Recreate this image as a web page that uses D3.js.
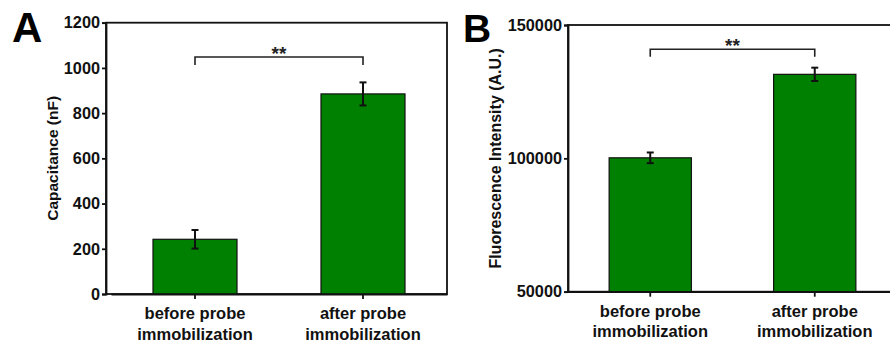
<!DOCTYPE html>
<html>
<head>
<meta charset="utf-8">
<script src="https://cdn.jsdelivr.net/npm/d3@7"></script>
<style>
  body { margin: 0; background: #fff; }
  svg { display: block; font-family: "Liberation Sans", Arial, sans-serif; }
</style>
</head>
<body>
<div id="canvas"></div>
<script>
// data
const categories = ["before", "after"];
const categoryLines = [["before probe", "immobilization"], ["after probe", "immobilization"]];

const capacitance = [242, 885];
const capacitanceErr = [41, 51];
const capTicks = [0, 200, 400, 600, 800, 1000, 1200];

const fluorescence = [100200, 131500];
const fluorescenceErr = [2000, 2500];
const fluoTicks = [50000, 100000, 150000];

const sigLabel = "**";
const capBracket = [1048, 1013];     // bracket line, leg end
const fluoBracket = [140900, 138100];

const width = 890;
const height = 348;

const svg = d3.select("#canvas").append("svg")
  .attr("width", width)
  .attr("height", height);

function drawPanel(cfg) {
  const g = svg.append("g").attr("transform", `translate(${cfg.left},${cfg.top})`);
  const iwidth = cfg.w, iheight = cfg.h;

  const y = d3.scaleLinear().domain(cfg.domain).range([iheight, 0]);
  const x = d3.scaleBand()
    .domain(categories)
    .range(cfg.xRange)
    .paddingInner(0.5)
    .paddingOuter(0.25);

  // frame
  g.append("rect")
    .attr("x", 0).attr("y", 0)
    .attr("width", iwidth).attr("height", iheight)
    .attr("fill", "none")
    .attr("stroke", "#111")
    .attr("stroke-width", 1.8);

  // bars
  g.selectAll("rect.bar")
    .data(cfg.values)
    .enter().append("rect")
    .attr("class", "bar")
    .attr("x", (d, i) => x(categories[i]))
    .attr("y", d => y(d))
    .attr("width", x.bandwidth())
    .attr("height", d => iheight - y(d))
    .attr("fill", "#008000")
    .attr("stroke", "#111")
    .attr("stroke-width", 1.2);

  // error bars
  const cx = i => x(categories[i]) + x.bandwidth() / 2;
  const eb = g.selectAll("g.err")
    .data(cfg.values)
    .enter().append("g")
    .attr("class", "err")
    .attr("stroke", "#111")
    .attr("stroke-width", 2);
  eb.append("line")
    .attr("x1", (d, i) => cx(i)).attr("x2", (d, i) => cx(i))
    .attr("y1", (d, i) => y(d + cfg.errs[i])).attr("y2", (d, i) => y(d - cfg.errs[i]));
  eb.append("line")
    .attr("x1", (d, i) => cx(i) - 3.5).attr("x2", (d, i) => cx(i) + 3.5)
    .attr("y1", (d, i) => y(d + cfg.errs[i])).attr("y2", (d, i) => y(d + cfg.errs[i]));
  eb.append("line")
    .attr("x1", (d, i) => cx(i) - 3.5).attr("x2", (d, i) => cx(i) + 3.5)
    .attr("y1", (d, i) => y(d - cfg.errs[i])).attr("y2", (d, i) => y(d - cfg.errs[i]));

  // significance bracket
  const by = y(cfg.bracket[0]), bl = y(cfg.bracket[1]);
  g.append("path")
    .attr("d", `M${cx(0)},${bl}V${by}H${cx(1)}V${bl}`)
    .attr("fill", "none")
    .attr("stroke", "#222")
    .attr("stroke-width", 1.6);
  g.append("text")
    .attr("x", (cx(0) + cx(1)) / 2)
    .attr("y", by + 3)
    .attr("text-anchor", "middle")
    .attr("font-size", 19)
    .attr("font-weight", "bold")
    .attr("fill", "#222")
    .text(sigLabel);

  // y axis
  const yAxis = g.append("g")
    .call(d3.axisLeft(y).tickValues(cfg.ticks).tickSize(4).tickPadding(2).tickFormat(d3.format("d")));
  yAxis.select(".domain").attr("stroke-width", 1.8).attr("stroke", "#111");
  yAxis.selectAll(".tick line").attr("stroke-width", 1.8).attr("stroke", "#111");
  yAxis.selectAll(".tick text")
    .attr("font-size", 16.3).attr("font-weight", "bold").attr("fill", "#111")
    .attr("font-family", "Liberation Sans, Arial, sans-serif");

  // x axis
  const xAxis = g.append("g")
    .attr("transform", `translate(0,${iheight})`)
    .call(d3.axisBottom(x).tickSize(5).tickSizeOuter(0));
  xAxis.select(".domain").attr("stroke-width", 1.8).attr("stroke", "#111");
  xAxis.selectAll(".tick line").attr("stroke-width", 1.8).attr("stroke", "#111");
  xAxis.selectAll(".tick text").remove();
  xAxis.selectAll(".tick").each(function (d, i) {
    const t = d3.select(this).append("text")
      .attr("text-anchor", "middle")
      .attr("font-size", 16.5)
      .attr("font-weight", "bold")
      .attr("fill", "#111")
      .attr("font-family", "Liberation Sans, Arial, sans-serif");
    categoryLines[i].forEach((s, k) => {
      t.append("tspan").attr("x", 0).attr("y", 25 + k * 20.5).text(s);
    });
  });

  // y label
  g.append("text")
    .attr("transform", `translate(${cfg.labelX},${iheight / 2}) rotate(-90)`)
    .attr("text-anchor", "middle")
    .attr("dy", "0.35em")
    .attr("font-size", cfg.labelSize)
    .attr("font-weight", "bold")
    .attr("fill", "#111")
    .text(cfg.label);

  // panel letter
  svg.append("text")
    .attr("x", cfg.letterX).attr("y", 42)
    .attr("font-size", cfg.letterSize)
    .attr("font-weight", "bold")
    .attr("fill", "#000")
    .text(cfg.letter);
}

drawPanel({
  left: 106, top: 22.7, w: 341, h: 271.3,
  xRange: [5, 341],
  domain: [0, 1200], ticks: capTicks,
  values: capacitance, errs: capacitanceErr, bracket: capBracket,
  label: "Capacitance (nF)", labelX: -53, labelSize: 15.5,
  letter: "A", letterX: 12, letterSize: 42
});

drawPanel({
  left: 568, top: 25, w: 329, h: 266.7,
  xRange: [0, 329],
  domain: [50000, 150000], ticks: fluoTicks,
  values: fluorescence, errs: fluorescenceErr, bracket: fluoBracket,
  label: "Fluorescence Intensity (A.U.)", labelX: -73, labelSize: 16,
  letter: "B", letterX: 463, letterSize: 39
});
</script>
</body>
</html>
